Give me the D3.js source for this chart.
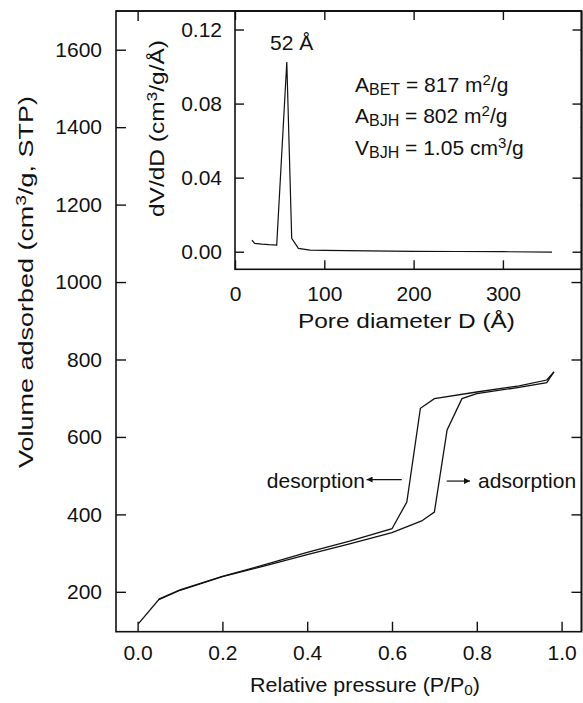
<!DOCTYPE html>
<html><head><meta charset="utf-8">
<script src="https://cdn.jsdelivr.net/npm/d3@7"></script>
<style>
html,body{margin:0;padding:0;background:#fff;}
svg text{font-family:"Liberation Sans", Arial, Helvetica, sans-serif; fill:#111;}
</style></head><body>
<svg id="c" width="583" height="703"></svg>
<script>
// ---- data ----
const adsP = [0.002,0.05,0.1,0.2,0.3,0.4,0.5,0.6,0.67,0.70,0.73,0.765,0.8,0.9,0.965,0.982];
const adsV = [118,180,204,239,267,296,324,353,383,406,618,699,712,728,740,768];
const desP = [0.982,0.965,0.9,0.8,0.7,0.667,0.635,0.6,0.5,0.4,0.3,0.2,0.1,0.05];
const desV = [768,747,732,716,699,674,432,363,331,302,270,240,205,181];
const poreD = [19,22,30,38,46.7,58,63.5,71,84,100,150,200,250,300,355];
const dVdD  = [0.0063,0.0045,0.0041,0.0038,0.0036,0.1025,0.0072,0.0018,0.0009,0.0007,0.0004,0.0002,0.0001,0.0,-0.0002];
const pTicks = [0,0.2,0.4,0.6,0.8,1.0];
const vTicks = [200,400,600,800,1000,1200,1400,1600];
const dTicks = [0,100,200,300];
const psdTicks = [0,0.04,0.08,0.12];

const svg = d3.select("#c");
const FS = 21;

// ---- main scales ----
const M = {l:116, r:581.5, t:11, b:631.7};
const x = d3.scaleLinear().domain([-0.051,1.047]).range([M.l,M.r]);
const y = d3.scaleLinear().domain([97,1700]).range([M.b,M.t]);

function style(g){
  g.select(".domain").remove();
  g.attr("font-size",null).attr("font-family",null);
  g.selectAll(".tick line").attr("stroke","#111").attr("stroke-width",1.4);
  g.selectAll("text").attr("font-size",FS);
}

svg.append("g").attr("transform",`translate(${M.l},0)`)
  .call(d3.axisLeft(y).tickValues(vTicks).tickSizeInner(-10).tickSizeOuter(0).tickPadding(14).tickFormat(d3.format("d"))).call(style);
svg.append("g").attr("transform",`translate(${M.r},0)`)
  .call(d3.axisRight(y).tickValues(vTicks).tickSizeInner(-10).tickSizeOuter(0).tickFormat("")).call(style);
svg.append("g").attr("transform",`translate(0,${M.b})`)
  .call(d3.axisBottom(x).tickValues(pTicks).tickSizeInner(-10).tickSizeOuter(0).tickPadding(13).tickFormat(d3.format(".1f"))).call(style);
svg.append("g").attr("transform",`translate(0,${M.t})`)
  .call(d3.axisTop(x).tickValues(pTicks).tickSizeInner(-10).tickSizeOuter(0).tickFormat("")).call(style);

// curves
const lineM = d3.line().x(d=>x(d[0])).y(d=>y(d[1]));
svg.append("path").datum(adsP.map((p,i)=>[p,adsV[i]]))
  .attr("d",lineM).attr("fill","none").attr("stroke","#111").attr("stroke-width",1.3);
svg.append("path").datum(desP.map((p,i)=>[p,desV[i]]))
  .attr("d",lineM).attr("fill","none").attr("stroke","#111").attr("stroke-width",1.3);

// annotations (data coords)
const defs = svg.append("defs");
defs.append("marker").attr("id","ah").attr("viewBox","0 0 10 10").attr("refX",10).attr("refY",5)
  .attr("markerWidth",8).attr("markerHeight",6).attr("markerUnits","userSpaceOnUse").attr("orient","auto")
  .append("path").attr("d","M0,0L10,5L0,10z").attr("fill","#111");
svg.append("line").attr("x1",x(0.623)).attr("x2",x(0.540)).attr("y1",y(490)).attr("y2",y(490))
  .attr("stroke","#111").attr("stroke-width",1.2).attr("marker-end","url(#ah)");
svg.append("line").attr("x1",x(0.729)).attr("x2",x(0.784)).attr("y1",y(486)).attr("y2",y(486))
  .attr("stroke","#111").attr("stroke-width",1.2).attr("marker-end","url(#ah)");
svg.append("text").attr("x",x(0.536)).attr("y",y(468)).attr("text-anchor","end").attr("font-size",FS).text("desorption");
svg.append("text").attr("x",x(0.803)).attr("y",y(468)).attr("font-size",FS).text("adsorption");

// main frame
svg.append("rect").attr("x",M.l).attr("y",M.t).attr("width",M.r-M.l).attr("height",M.b-M.t)
  .attr("fill","none").attr("stroke","#111").attr("stroke-width",1.6);

// main titles
svg.append("text").attr("x",365).attr("y",692).attr("text-anchor","middle").attr("font-size",FS)
  .attr("textLength",230).attr("lengthAdjust","spacingAndGlyphs")
  .call(t=>{t.append("tspan").text("Relative pressure  (P/P");
            t.append("tspan").attr("font-size",15).attr("dy",3).text("0");
            t.append("tspan").attr("dy",-3).text(")");});
svg.append("text").attr("transform","translate(33,282) rotate(-90)").attr("text-anchor","middle").attr("font-size",FS)
  .attr("textLength",372).attr("lengthAdjust","spacingAndGlyphs")
  .call(t=>{t.append("tspan").text("Volume adsorbed  (cm");
            t.append("tspan").attr("font-size",15).attr("dy",-7).text("3");
            t.append("tspan").attr("dy",7).text("/g, STP)");});

// ---- inset ----
const I = {l:235, r:581.5, t:11, b:269.3};
svg.append("rect").attr("x",140).attr("y",M.t+0.9).attr("width",M.r-0.9-140).attr("height",I.b-M.t-0.9).attr("fill","#fff");
svg.append("line").attr("x1",M.l).attr("x2",M.r).attr("y1",M.t).attr("y2",M.t).attr("stroke","#111").attr("stroke-width",1.6);
svg.append("line").attr("x1",M.r).attr("x2",M.r).attr("y1",M.t).attr("y2",M.b).attr("stroke","#111").attr("stroke-width",1.6);

const xi = d3.scaleLinear().domain([0,388]).range([I.l,I.r]);
const yi = d3.scaleLinear().domain([-0.0095,0.13]).range([I.b,I.t]);

svg.append("g").attr("transform",`translate(${I.l},0)`)
  .call(d3.axisLeft(yi).tickValues(psdTicks).tickSizeInner(-9).tickSizeOuter(0).tickPadding(13).tickFormat(d3.format(".2f"))).call(style);
svg.append("g").attr("transform",`translate(${I.r},0)`)
  .call(d3.axisRight(yi).tickValues(psdTicks).tickSizeInner(-9).tickSizeOuter(0).tickFormat("")).call(style);
svg.append("g").attr("transform",`translate(0,${I.b})`)
  .call(d3.axisBottom(xi).tickValues(dTicks).tickSizeInner(-9).tickSizeOuter(0).tickPadding(17).tickFormat(d3.format("d"))).call(style);
svg.append("g").attr("transform",`translate(0,${I.t})`)
  .call(d3.axisTop(xi).tickValues(dTicks).tickSizeInner(-9).tickSizeOuter(0).tickFormat("")).call(style);

const lineI = d3.line().x(d=>xi(d[0])).y(d=>yi(d[1]));
svg.append("path").datum(poreD.map((p,i)=>[p,dVdD[i]]))
  .attr("d",lineI).attr("fill","none").attr("stroke","#111").attr("stroke-width",1.2);

svg.append("rect").attr("x",I.l).attr("y",I.t).attr("width",I.r-I.l).attr("height",I.b-I.t)
  .attr("fill","none").attr("stroke","#111").attr("stroke-width",1.6);

// inset texts
svg.append("text").attr("x",270).attr("y",50).attr("font-size",FS).text("52 Å");
const stats = [["A","BET"," = 817 m","2","/g"],["A","BJH"," = 802 m","2","/g"],["V","BJH"," = 1.05 cm","3","/g"]];
const statY = [92,123,155];
stats.forEach((s,i)=>{
  const t = svg.append("text").attr("x",355).attr("y",statY[i]).attr("font-size",FS);
  t.append("tspan").text(s[0]);
  t.append("tspan").attr("font-size",16).attr("dy",3).text(s[1]);
  t.append("tspan").attr("dy",-3).text(s[2]);
  t.append("tspan").attr("font-size",15).attr("dy",-7).text(s[3]);
  t.append("tspan").attr("dy",7).text(s[4]);
});
svg.append("text").attr("x",406.5).attr("y",328).attr("text-anchor","middle").attr("font-size",FS)
  .attr("textLength",217).attr("lengthAdjust","spacingAndGlyphs").text("Pore diameter D  (Å)");
svg.append("text").attr("transform","translate(164,128.5) rotate(-90)").attr("text-anchor","middle").attr("font-size",FS)
  .attr("textLength",177).attr("lengthAdjust","spacingAndGlyphs")
  .call(t=>{t.append("tspan").text("dV/dD  (cm");
            t.append("tspan").attr("font-size",15).attr("dy",-7).text("3");
            t.append("tspan").attr("dy",7).text("/g/Å)");});
</script>
</body></html>
